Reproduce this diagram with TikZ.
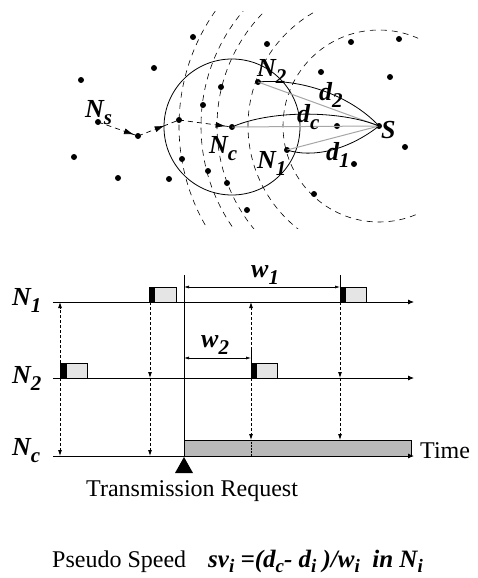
\documentclass[tikz,border=0pt]{standalone}
\usepackage{fontspec}
\setmainfont{Liberation Serif}
\usetikzlibrary{arrows.meta,decorations.markings}
\newcommand\lbl[2]{{\fontsize{26}{28}\selectfont\bfseries\itshape #1\raisebox{-7pt}{\fontsize{21}{21}\selectfont #2}}}
\newcommand\sbi[1]{\raisebox{-5pt}{\fontsize{19}{19}\selectfont #1}}
\begin{document}
\begin{tikzpicture}[x=1pt,y=-1pt,
  font=\fontsize{24}{28}\selectfont,
  dot/.style={circle,fill,inner sep=0pt,minimum size=6pt},
  lab/.style={anchor=base west,inner sep=0pt},
  arcdash/.style={dash pattern=on 6pt off 5pt,line width=0.6pt},
  gline/.style={draw=gray!70,line width=1pt},
  curve/.style={line width=0.8pt},
  axis/.style={line width=0.8pt,-{Latex[length=6pt,width=5pt]}},
  warrow/.style={line width=0.6pt,{Latex[length=5pt,width=3pt]}-{Latex[length=5pt,width=3pt]}},
  varrow/.style={line width=0.8pt,dash pattern=on 3pt off 2pt,-{Latex[length=6pt,width=4pt]}},
  pkt/.style={fill=gray!20,draw=black,line width=0.6pt},
  pkthead/.style={fill=black},
  hop/.style={dash pattern=on 5pt off 4pt,line width=0.7pt,
    postaction={decorate,decoration={markings,
      mark=at position #1 with {\arrow{Latex[length=10pt,width=6pt]}}}}}]
\useasboundingbox (0,0) rectangle (478,578);
% ---------- top: network ----------
\node[dot] (Ns) at (98,122) {};
\node[dot] (m1) at (138,136) {};
\node[dot] (m2) at (179,120) {};
\node[dot] (Nc) at (232,127) {};
\node[dot] (N2) at (258,82) {};
\node[dot] (N1) at (287,150) {};
\node[dot] (S) at (379,126) {};
\foreach \p [count=\i] in {(193,37),(154,68),(81,80),(203,105),(221,87),(74,157),
  (118,178),(169,179),(182,159),(208,171),(227,183),(247,210),(267,44),(321,72),
  (351,42),(399,39),(390,77),(337,126),(405,147),(354,164),(314,194)}
  \node[dot] (o\i) at \p {};
% dashed range arcs centred on S
\begin{scope}
  \clip (100,12) rectangle (379,228);
  \foreach \r in {200,178,162,131}
    \draw[arcdash] (S.center) circle[radius=\r pt];
\end{scope}
\begin{scope}
  \clip (250,0) rectangle (418,240);
  \draw[arcdash] (S.center) circle[radius=96pt];
\end{scope}
% solid circle around Nc
\draw[line width=0.8pt] (Nc.center) circle[radius=68pt];
% route of the packet
\draw[hop=0.9] (Ns.center) -- (m1.center);
\draw[hop=0.65] (m1.center) -- (m2.center);
\draw[hop=0.88] (m2.center) -- (Nc.center);
% distances
\draw[gline] (N2.center) -- (S.center);
\draw[gline] (Nc.center) -- (S.center);
\draw[gline] (N1.center) -- (S.center);
\draw[curve] (N2.center) .. controls (300,78) and (350,95) .. (S.center);
\draw[curve] (Nc.center) .. controls (270,110) and (340,110) .. (S.center);
\draw[curve] (N1.center) .. controls (312,158) and (347,151) .. (S.center);
% labels
\node[lab] (lNs) at (85,117) {\lbl{N}{s}};
\node[lab] (lNc) at (209,153) {\lbl{N}{c}};
\node[lab] (lN2) at (257,77) {\lbl{N}{2}};
\node[lab] (lN1) at (257,168) {\lbl{N}{1}};
\node[lab] (ld2) at (319,100) {\lbl{d}{2}};
\node[lab] (ldc) at (297,122) {\lbl{d}{c}};
\node[lab] (ld1) at (326,160) {\lbl{d}{1}};
\node[lab] (lS) at (381,138) {\fontsize{26}{28}\selectfont\bfseries\itshape S};
% ---------- bottom: timing ----------
\coordinate (A1s) at (53,302); \coordinate (A1e) at (414,302);
\coordinate (A2s) at (53,378); \coordinate (A2e) at (414,378);
\coordinate (A3s) at (53,456); \coordinate (A3e) at (414,456);
\coordinate (Rt) at (184,275); \coordinate (Rb) at (184,456);
\filldraw[fill=gray!55,line width=0.8pt] (184,440) rectangle (411,456);
\draw[axis] (A1s) -- (A1e);
\draw[axis] (A2s) -- (A2e);
\draw[axis] (A3s) -- (A3e);
\draw[line width=0.8pt] (Rt) -- (Rb);
\fill (184,457) -- (175,473) -- (193,473) -- cycle;
% packets
\draw[pkt] (154,287) rectangle (176,302); \fill[pkthead] (149,287) rectangle (154,302);
\draw[pkt] (66,363) rectangle (87,378);   \fill[pkthead] (60,363) rectangle (66,378);
\draw[pkt] (345,287) rectangle (366,302); \fill[pkthead] (340,287) rectangle (345,302);
\draw[pkt] (256,363) rectangle (277,378); \fill[pkthead] (251,363) rectangle (256,378);
% ticks
\draw[line width=0.7pt] (340,275) -- (340,287);
\draw[line width=0.7pt] (251,350) -- (251,363);
% waits
\draw[warrow] (184,287) -- (340,287);
\draw[warrow] (184,358) -- (251,358);
\node[lab] (lw1) at (251,277) {\lbl{w}{1}};
\node[lab] (lw2) at (201,347) {\lbl{w}{2}};
% propagation arrows
\draw[varrow] (60,363) -- (60,302);
\draw[varrow] (60,378) -- (60,456);
\draw[varrow] (150,302) -- (150,378);
\draw[varrow] (150,378) -- (150,456);
\draw[varrow] (340,302) -- (340,378);
\draw[varrow] (340,378) -- (340,440);
\draw[varrow] (251,350) -- (251,302);
\draw[varrow] (251,378) -- (251,440);
\draw[line width=0.5pt,densely dotted] (251,440) -- (251,456);
% axis labels
\node[lab] (tN1) at (12,305) {\lbl{N}{1}};
\node[lab] (tN2) at (12,383) {\lbl{N}{2}};
\node[lab] (tNc) at (12,455) {\lbl{N}{c}};
\node[lab] (time) at (420,458) {Time};
\node[lab] (treq) at (86,496) {Transmission Request};
\node[lab] (ps) at (52,567) {Pseudo Speed};
\node[lab] (form) at (208,567) {\fontsize{25}{28}\selectfont\bfseries\itshape sv\sbi{i} =(d\sbi{c}- d\sbi{i} )/w\sbi{i}\ \ in N\sbi{i}};
\end{tikzpicture}
\end{document}
